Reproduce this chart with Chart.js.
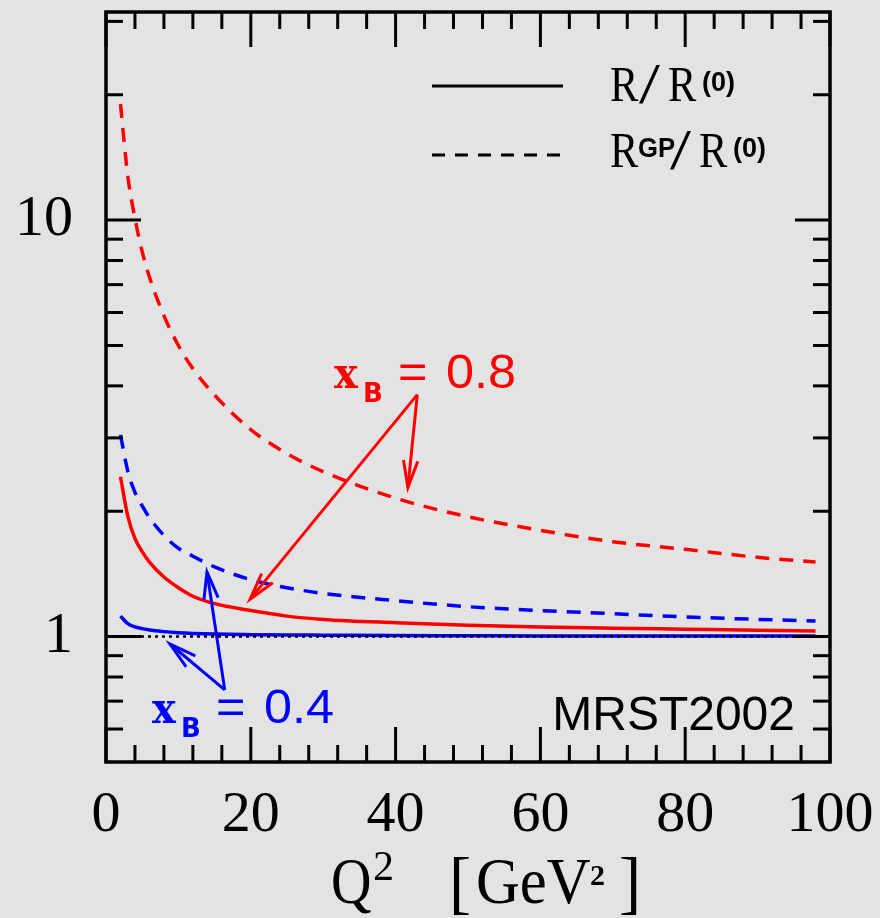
<!DOCTYPE html>
<html>
<head>
<meta charset="utf-8">
<script src="https://cdn.jsdelivr.net/npm/chart.js@4"></script>
<style>
  html, body { margin: 0; padding: 0; background: #e3e3e3; }
  #plot { display: block; }
</style>
</head>
<body>
<canvas id="plot" width="880" height="918"></canvas>
<script>
// Q^2 grid (GeV^2) and ratio curves
const q2 = [2, 3, 4, 5, 6, 8, 10, 12, 15, 20, 25, 30, 40, 50, 60, 70, 80, 90, 98];

const r08   = [2.42, 1.95, 1.72, 1.60, 1.51, 1.39, 1.31, 1.25, 1.20, 1.155, 1.12, 1.10, 1.08, 1.065, 1.055, 1.048, 1.042, 1.036, 1.032];
const rgp08 = [19.0, 12.8, 10.1, 8.4, 7.3, 5.9, 5.0, 4.4, 3.8, 3.14, 2.75, 2.49, 2.15, 1.94, 1.80, 1.69, 1.62, 1.55, 1.51];
const r04   = [1.12, 1.075, 1.055, 1.045, 1.037, 1.028, 1.022, 1.018, 1.014, 1.011, 1.009, 1.008, 1.006, 1.005, 1.004, 1.004, 1.003, 1.003, 1.003];
const rgp04 = [3.05, 2.50, 2.22, 2.06, 1.93, 1.75, 1.63, 1.56, 1.47, 1.37, 1.31, 1.27, 1.22, 1.18, 1.155, 1.135, 1.115, 1.10, 1.09];

const unityX = [0, 100];

// axis ticks
const xTicks = [0, 4, 8, 12, 16, 20, 24, 28, 32, 36, 40, 44, 48, 52, 56, 60, 64, 68, 72, 76, 80, 84, 88, 92, 96, 100];
const xLabels = [0, 20, 40, 60, 80, 100];
const yTicks = [0.6, 0.7, 0.8, 0.9, 1, 2, 3, 4, 5, 6, 7, 8, 9, 10, 20, 30];
const yLabels = [1, 10];

// arrows: [apexQ2, apexR, tipQ2, tipR]
const redArrows = [[43.0, 3.81, 19.9, 1.23], [43.0, 3.81, 41.7, 2.28]];
const blueArrows = [[16.4, 0.745, 13.95, 1.43], [16.4, 0.745, 8.84, 0.96]];

const RED = '#ff0000';
const BLUE = '#0000ff';
const SERIF = '"Liberation Serif", "DejaVu Serif", serif';
const SANS = '"Liberation Sans", Arial, sans-serif';

function pts(ys) { return q2.map((q, i) => ({ x: q, y: ys[i] })); }

function line(ctx, x1, y1, x2, y2) {
  ctx.beginPath(); ctx.moveTo(x1, y1); ctx.lineTo(x2, y2); ctx.stroke();
}

function arrow(ctx, x1, y1, x2, y2) {
  line(ctx, x1, y1, x2, y2);
  const ang = Math.atan2(y2 - y1, x2 - x1);
  const len = 28, spread = 0.26;
  ctx.beginPath();
  ctx.moveTo(x2 - len * Math.cos(ang - spread), y2 - len * Math.sin(ang - spread));
  ctx.lineTo(x2, y2);
  ctx.lineTo(x2 - len * Math.cos(ang + spread), y2 - len * Math.sin(ang + spread));
  ctx.stroke();
}

// text squeezed horizontally by k, left edge at x
function narrowText(ctx, str, x, y, font, k) {
  ctx.save();
  ctx.font = font;
  ctx.translate(x, y);
  ctx.scale(k, 1);
  ctx.fillText(str, 0, 0);
  ctx.restore();
}

// keep the plot box fixed: no extra room for overhanging tick labels
function noPad(axis) {
  axis.paddingLeft = 0; axis.paddingRight = 0;
  axis.paddingTop = 0; axis.paddingBottom = 0;
}

// frame with inward ticks on all four sides
const framePlugin = {
  id: 'frame',
  afterDatasetsDraw(chart) {
    const { ctx, chartArea: a, scales: { x, y } } = chart;
    ctx.save();
    ctx.strokeStyle = '#000';
    ctx.lineWidth = 3;
    x.ticks.forEach(t => {
      const px = x.getPixelForValue(t.value);
      const len = t.major ? 35 : 17;
      line(ctx, px, a.bottom, px, a.bottom - len);
      line(ctx, px, a.top, px, a.top + len);
    });
    y.ticks.forEach(t => {
      const py = y.getPixelForValue(t.value);
      const len = t.major ? 35 : 17;
      line(ctx, a.left, py, a.left + len, py);
      line(ctx, a.right, py, a.right - len, py);
    });
    ctx.lineWidth = 3.5;
    ctx.strokeRect(a.left, a.top, a.right - a.left, a.bottom - a.top);
    ctx.restore();
  }
};

// legend, labels, arrows and axis title
const notesPlugin = {
  id: 'notes',
  afterDraw(chart) {
    const { ctx, chartArea: a, scales: { x, y } } = chart;
    ctx.save();
    ctx.textBaseline = 'alphabetic';

    // legend
    const lx0 = a.left + 326, lx1 = a.left + 457;
    ctx.strokeStyle = '#000';
    ctx.lineWidth = 3;
    line(ctx, lx0, 86, lx1, 86);
    ctx.setLineDash([13, 10]);
    line(ctx, lx0, 155, lx1 - 3, 155);
    ctx.setLineDash([]);

    ctx.fillStyle = '#000';
    const big = '50px ' + SERIF, sup = 'bold 27px ' + SANS, slash = '58px ' + SERIF;
    narrowText(ctx, 'R', 610, 101, big, 0.85);
    narrowText(ctx, '/', 639, 103, slash, 1.3);
    narrowText(ctx, 'R', 668, 101, big, 0.85);
    narrowText(ctx, '(0)', 702, 91, sup, 1);

    narrowText(ctx, 'R', 610, 167, big, 0.85);
    narrowText(ctx, 'GP', 638, 157, sup, 0.95);
    narrowText(ctx, '/', 670, 169, slash, 1.3);
    narrowText(ctx, 'R', 699, 167, big, 0.85);
    narrowText(ctx, '(0)', 733, 157, sup, 1);

    // x_B labels
    const xb = (col, px, py, val) => {
      ctx.fillStyle = col;
      narrowText(ctx, 'x', px, py, 'bold 42px "DejaVu Serif", serif', 0.95);
      narrowText(ctx, 'B', px + 29, py + 14, 'bold 26px "DejaVu Sans", sans-serif', 1);
      narrowText(ctx, '=', px + 64, py, '48px ' + SANS, 1.05);
      narrowText(ctx, val, px + 112, py, '48px ' + SANS, 1.05);
    };
    xb(RED, 334, 388, '0.8');
    xb(BLUE, 152, 723, '0.4');

    ctx.lineWidth = 3;
    ctx.strokeStyle = RED;
    redArrows.forEach(r => arrow(ctx, x.getPixelForValue(r[0]), y.getPixelForValue(r[1]),
      x.getPixelForValue(r[2]), y.getPixelForValue(r[3])));
    ctx.strokeStyle = BLUE;
    blueArrows.forEach(r => arrow(ctx, x.getPixelForValue(r[0]), y.getPixelForValue(r[1]),
      x.getPixelForValue(r[2]), y.getPixelForValue(r[3])));

    ctx.fillStyle = '#000';
    ctx.font = '48px ' + SANS;
    ctx.textAlign = 'right';
    ctx.fillText('MRST2002', a.right - 35, 730);
    ctx.textAlign = 'left';

    // axis title Q^2 [GeV^2]
    const tf = '66px ' + SERIF;
    narrowText(ctx, 'Q', 331, 903, tf, 0.85);
    narrowText(ctx, '2', 373, 880, '42px ' + SERIF, 1);
    narrowText(ctx, '[', 449, 906, '70px ' + SERIF, 0.95);
    narrowText(ctx, 'GeV', 476, 903, tf, 0.92);
    narrowText(ctx, '2', 590, 885, 'bold 30px ' + SERIF, 1);
    narrowText(ctx, ']', 619, 906, '70px ' + SERIF, 0.95);
    ctx.restore();
  }
};

const curve = (data, color, dashed) => ({
  data: pts(data),
  borderColor: color,
  borderWidth: 3.5,
  borderDash: dashed ? [14, 10] : [],
  pointRadius: 0,
  cubicInterpolationMode: 'monotone',
  fill: false
});

new Chart(document.getElementById('plot'), {
  type: 'line',
  data: {
    datasets: [
      {
        data: unityX.map(v => ({ x: v, y: 1 })),
        borderColor: '#000',
        borderWidth: 2.5,
        borderDash: [3, 4],
        pointRadius: 0
      },
      curve(rgp08, RED, true),
      curve(r08, RED, false),
      curve(rgp04, BLUE, true),
      curve(r04, BLUE, false)
    ]
  },
  options: {
    responsive: false,
    animation: false,
    devicePixelRatio: 1,
    layout: { padding: { left: 0, top: 12, right: 50, bottom: 0 } },
    plugins: { legend: { display: false }, tooltip: { enabled: false } },
    scales: {
      x: {
        type: 'linear',
        min: 0,
        max: 100,
        grid: { display: false },
        border: { display: false },
        afterBuildTicks: axis => { axis.ticks = xTicks.map(v => ({ value: v, major: xLabels.includes(v) })); },
        afterFit: axis => { axis.height = 156; noPad(axis); },
        ticks: {
          autoSkip: false,
          maxRotation: 0,
          padding: 11,
          color: '#000',
          font: { family: SERIF, size: 58 },
          callback: v => xLabels.includes(v) ? String(v) : ''
        },
        title: { display: false }
      },
      y: {
        type: 'logarithmic',
        min: 0.5,
        max: 31.6,
        grid: { display: false },
        border: { display: false },
        afterBuildTicks: axis => { axis.ticks = yTicks.map(v => ({ value: v, major: yLabels.includes(v) })); },
        afterFit: axis => { axis.width = 106; noPad(axis); },
        ticks: {
          autoSkip: false,
          padding: 25,
          color: '#000',
          font: { family: SERIF, size: 58 },
          callback: v => yLabels.includes(v) ? String(v) : ''
        }
      }
    }
  },
  plugins: [framePlugin, notesPlugin]
});
</script>
</body>
</html>
